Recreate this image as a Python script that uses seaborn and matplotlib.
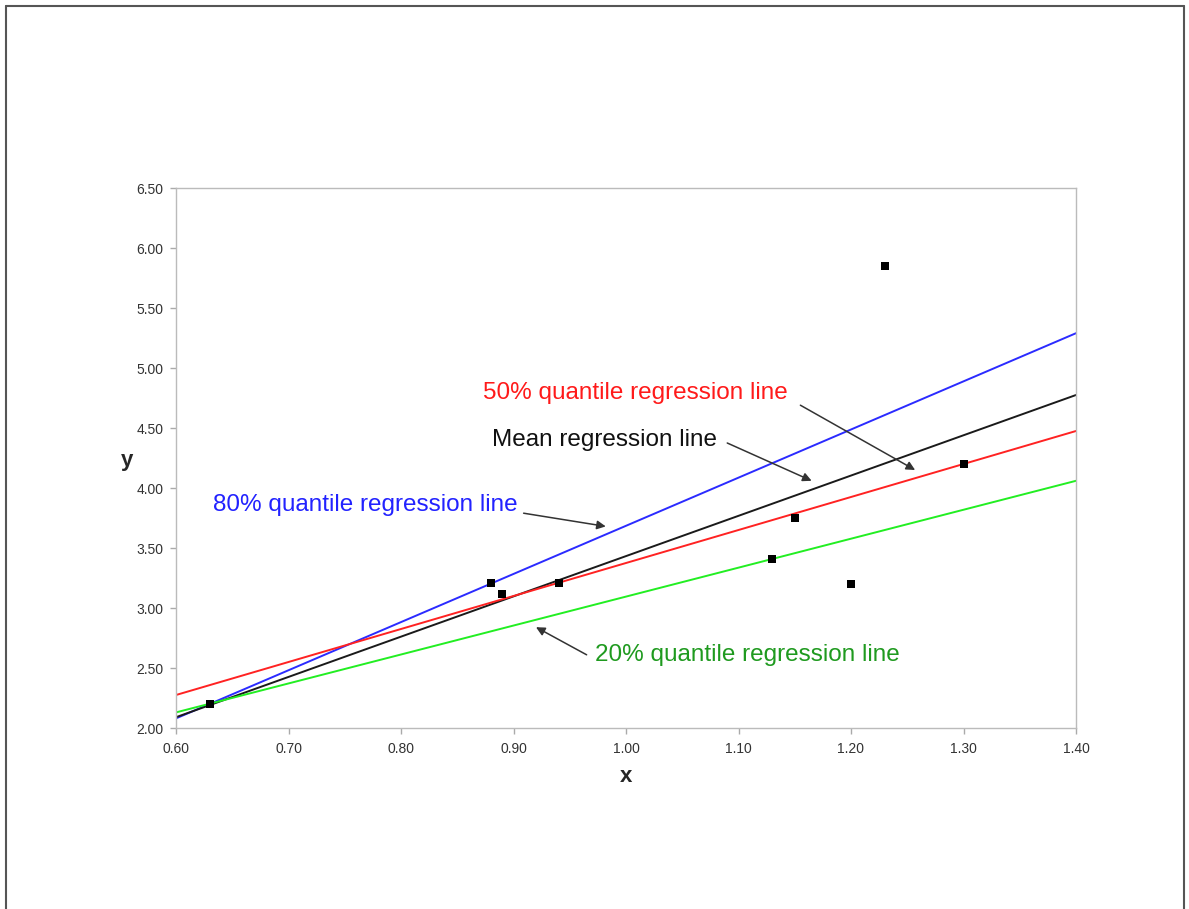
import matplotlib
matplotlib.use("Agg")
import matplotlib.pyplot as plt
import seaborn as sns
import pandas as pd
from matplotlib.lines import Line2D

# Data
px = [0.63, 0.88, 0.89, 0.94, 1.13, 1.15, 1.20, 1.23, 1.30]
py = [2.20, 3.21, 3.12, 3.21, 3.41, 3.75, 3.20, 5.85, 4.20]

line_x = [0.60, 1.40]
blue_y = [2.08, 5.29]    # 80% quantile
black_y = [2.09, 4.775]  # mean
red_y = [2.275, 4.475]   # 50% quantile
green_y = [2.13, 4.06]   # 20% quantile

x_ticks = [0.60, 0.70, 0.80, 0.90, 1.00, 1.10, 1.20, 1.30, 1.40]
y_ticks = [2.00, 2.50, 3.00, 3.50, 4.00, 4.50, 5.00, 5.50, 6.00, 6.50]

sns.set_theme(style="white")
plt.rcParams['font.family'] = ['Liberation Sans', 'DejaVu Sans']

fig = plt.figure(figsize=(11.89, 9.09), dpi=100)
ax = fig.add_axes([176/1189, 1-728/909, 900/1189, 540/909])

lines = pd.DataFrame({
    "x": line_x * 4,
    "y": blue_y + black_y + red_y + green_y,
    "series": ["80%"] * 2 + ["mean"] * 2 + ["50%"] * 2 + ["20%"] * 2,
})
palette = {"80%": "#2b2bff", "mean": "#1a1a1a", "50%": "#ff2222", "20%": "#22ee22"}
sns.lineplot(data=lines, x="x", y="y", hue="series", palette=palette,
             linewidth=1.4, legend=False, ax=ax, estimator=None, sort=False)

pts = pd.DataFrame({"x": px, "y": py})
sns.scatterplot(data=pts, x="x", y="y", marker="s", color="black", s=40,
                edgecolor="black", linewidth=0, ax=ax, zorder=5)

ax.set_xlim(0.60, 1.40)
ax.set_ylim(2.00, 6.50)
ax.set_xticks(x_ticks)
ax.set_yticks(y_ticks)
ax.set_xticklabels([f"{v:.2f}" for v in x_ticks])
ax.set_yticklabels([f"{v:.2f}" for v in y_ticks])
for s in ax.spines.values():
    s.set_color("#bbbbbb")
    s.set_linewidth(1.0)
ax.tick_params(axis="both", direction="out", length=4, width=1, color="#aaaaaa",
               labelsize=10, labelcolor="#333333", bottom=True, left=True)
ax.tick_params(axis="x", pad=6)
ax.tick_params(axis="y", pad=5)

ax.set_xlabel("x", fontsize=16, fontweight="bold")
ax.set_ylabel("y", fontsize=16, fontweight="bold", rotation=0, ha="center", va="center")
ax.xaxis.set_label_coords(0.5, -0.089)
ax.xaxis.label.set_va("center")
ax.yaxis.set_label_coords(-0.054, 0.496)

fs = 17.5
ax.text(1.008, 4.79, "50% quantile regression line", color="#ff1a1a", fontsize=fs,
        ha="center", va="center")
ax.text(0.981, 4.40, "Mean regression line", color="#111111", fontsize=fs,
        ha="center", va="center")
ax.text(0.768, 3.86, "80% quantile regression line", color="#2222ff", fontsize=fs,
        ha="center", va="center")
ax.text(1.108, 2.61, "20% quantile regression line", color="#1f9a1f", fontsize=fs,
        ha="center", va="center")

arrow_kw = dict(arrowstyle="-|>", color="#333333", lw=1.1, mutation_scale=13,
                shrinkA=0, shrinkB=0)
ax.annotate("", xy=(1.257, 4.15), xytext=(1.155, 4.69), arrowprops=arrow_kw)
ax.annotate("", xy=(1.165, 4.06), xytext=(1.090, 4.375), arrowprops=arrow_kw)
ax.annotate("", xy=(0.982, 3.68), xytext=(0.909, 3.79), arrowprops=arrow_kw)
ax.annotate("", xy=(0.920, 2.84), xytext=(0.965, 2.61), arrowprops=arrow_kw)

# outer frame (left, top, right)
fx0, fx1 = 5.5/1189, 1183.5/1189
fy1 = 1 - 5.5/909
for xs, ys in [([fx0, fx0], [0, fy1]), ([fx0, fx1], [fy1, fy1]), ([fx1, fx1], [fy1, 0])]:
    fig.add_artist(Line2D(xs, ys, transform=fig.transFigure, color="#555555", lw=1.5))

fig.savefig("out.png", dpi=100)
